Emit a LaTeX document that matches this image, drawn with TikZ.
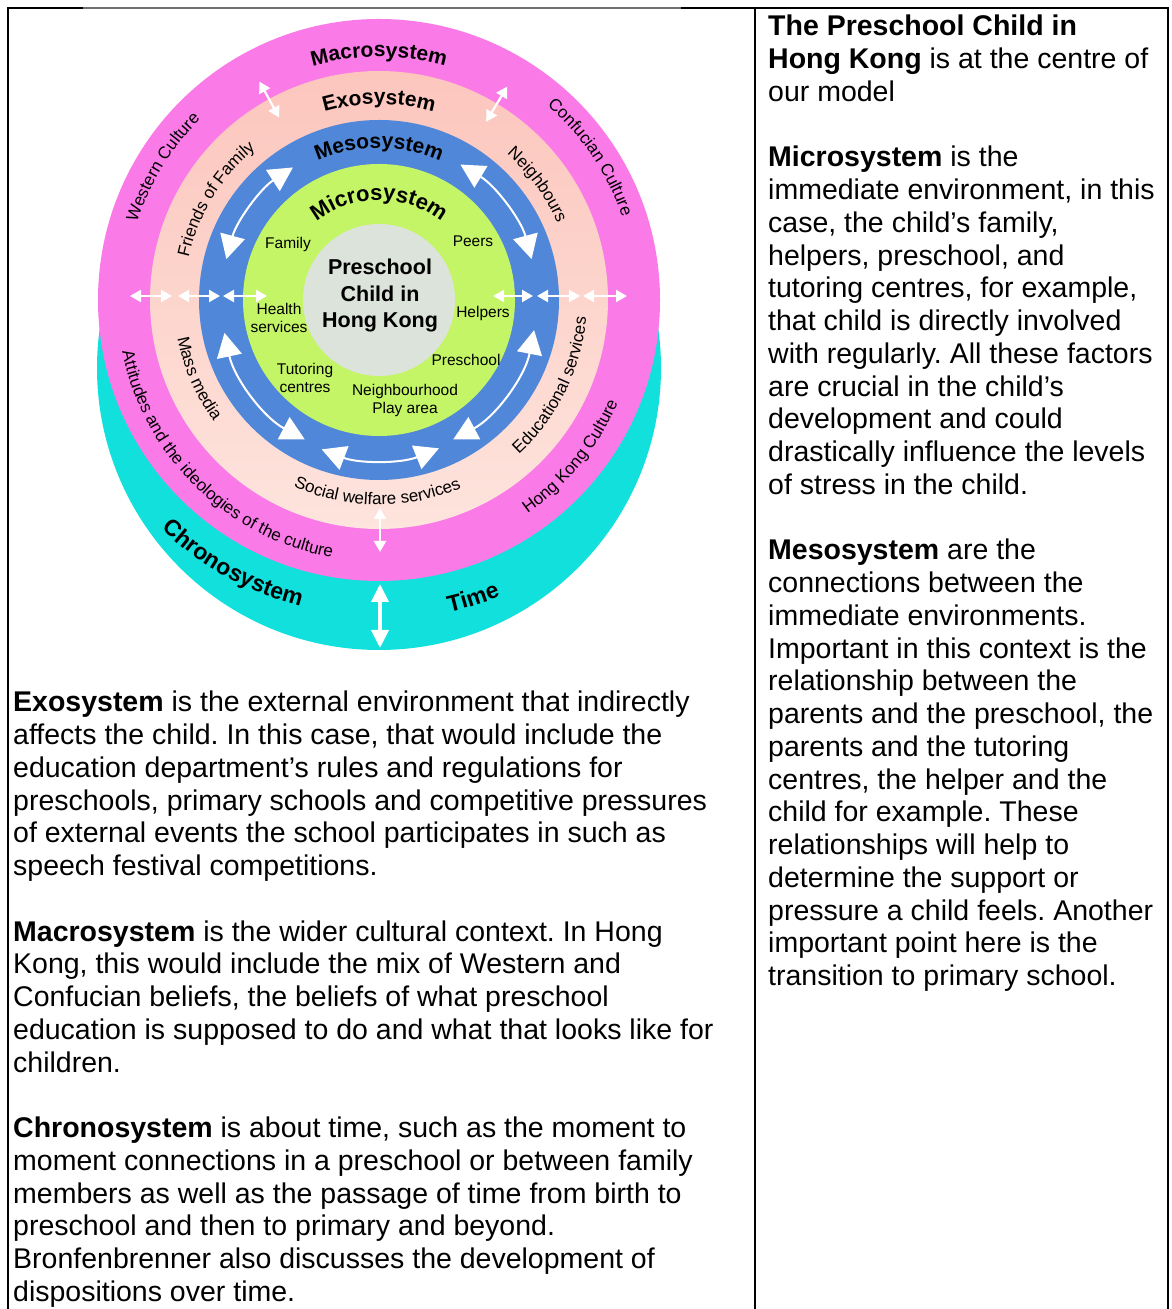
\documentclass[tikz,border=0pt]{standalone}
\usepackage{fontspec}
\setmainfont{Liberation Sans}
\usetikzlibrary{decorations.text,arrows.meta,calc}
\frenchspacing
\definecolor{macrocol}{HTML}{FA7AE8}
\definecolor{exotop}{HTML}{FCC6BD}
\definecolor{exobot}{HTML}{FDE4DD}
\definecolor{mesocol}{HTML}{5087D8}
\definecolor{microcol}{HTML}{C4F566}
\definecolor{corecol}{HTML}{DCE3DA}
\definecolor{chronocol}{HTML}{12E0DD}
\definecolor{grayline}{HTML}{707070}
\newcommand\ringbold{\bfseries\fontsize{21}{21}\selectfont}
\newcommand\microbold{\bfseries\fontsize{22}{22}\selectfont}
\newcommand\chronobold{\bfseries\fontsize{23}{23}\selectfont}
\newcommand\ringreg{\fontsize{17}{17}\selectfont}
\newcommand\cwtext[5]{\path[decorate,decoration={text along path,text align=center,text={|#4|#5}}] ($(C)+({#2+#3}:#1)$) arc[start angle={#2+#3}, end angle={#2-#3}, radius=#1];}
\newcommand\ccwtext[5]{\path[decorate,decoration={text along path,text align=center,text={|#4|#5}}] ($(C)+({#2-#3}:#1)$) arc[start angle={#2-#3}, end angle={#2+#3}, radius=#1];}
\tikzset{
  bigarr/.style={draw=white, line width=2pt, {Triangle[width=25pt,length=24pt]}-{Triangle[width=25pt,length=24pt]}},
  smallarr/.style={draw=white, line width=2.2pt, {Triangle[width=12pt,length=11pt]}-{Triangle[width=12pt,length=11pt]}},
  timearr/.style={draw=white, line width=4pt, {Triangle[width=17pt,length=18pt]}-{Triangle[width=17pt,length=18pt]}},
  lbl/.style={font=\fontsize{15.5}{18}\selectfont, align=center, inner sep=0},
  corelbl/.style={font=\bfseries\fontsize{21.5}{26.5}\selectfont, align=center, inner sep=0},
  tableline/.style={line width=2.5pt, black},
  bodytext/.style={anchor=base west, inner sep=0},
}
\begin{document}
\begin{tikzpicture}[x=1pt,y=1pt]
\useasboundingbox (0,0) rectangle (1172,1309);
\fill[white] (0,0) rectangle (1172,1309);
\coordinate (C) at (379,1009);
\coordinate (CC) at (379,941);
% rings
\fill[chronocol] (CC) circle (282);
\fill[macrocol] (C) circle (281);
\shade[top color=exotop, bottom color=exobot] (C) circle (229);
\fill[mesocol] (C) circle (180);
\fill[microcol] (C) circle (136);
\fill[corecol] (C) circle (76);
% curved titles
\cwtext{243}{90}{40}{\ringbold}{Macrosystem}
\cwtext{196}{90}{40}{\ringbold}{Exosystem}
\cwtext{152}{90}{45}{\ringbold}{Mesosystem}
\cwtext{100}{90}{60}{\microbold}{Microsystem}
\cwtext{254}{148.5}{30}{\ringreg}{Western Culture}
\cwtext{257}{34}{30}{\ringreg}{Confucian Culture}
\cwtext{195}{148.4}{30}{\ringreg}{Friends of Family}
\cwtext{194}{36}{25}{\ringreg}{Neighbours}
\ccwtext{205}{203.5}{25}{\ringreg}{Mass media}
\ccwtext{262}{225.5}{45}{\ringreg}{Attitudes and the ideologies of the culture}
\ccwtext{205}{269.5}{35}{\ringreg}{Social welfare services}
\ccwtext{208}{333.7}{30}{\ringreg}{Educational services}
\ccwtext{260}{320.8}{25}{\ringreg}{Hong Kong Culture}
\ccwtext{316}{241}{25}{\chronobold}{Chronosystem}
\ccwtext{320}{287.5}{12}{\chronobold}{Time}
% micro labels
\node[lbl] (family) at (288,1064) {Family};
\node[lbl] (peers) at (473,1068) {Peers};
\node[lbl] (health) at (279,991) {Health\\services};
\node[lbl] (helpers) at (483,995) {Helpers};
\node[lbl] (preschool) at (466,949) {Preschool};
\node[lbl] (tutoring) at (305,931) {Tutoring\\centres};
\node[lbl] (neigh) at (405,908) {Neighbourhood\\Play area};
\node[corelbl] (child) at (380,1013) {Preschool\\Child in\\Hong Kong};
% curved mesosystem arrows
\draw[bigarr] ($(C)+(165:158)$) arc[start angle=165, end angle=123, radius=158];
\draw[bigarr] ($(C)+(59:158)$) arc[start angle=59, end angle=15, radius=158];
\draw[bigarr] ($(C)+(-11:158)$) arc[start angle=-11, end angle=-62, radius=158];
\draw[bigarr] ($(C)+(-68:160)$) arc[start angle=-68, end angle=-111, radius=160];
\draw[bigarr] ($(C)+(-118:158)$) arc[start angle=-118, end angle=-168, radius=158];
% small straight arrows
\coordinate (l1a) at (130,1013); \coordinate (l1b) at (172,1013);
\coordinate (l2a) at (178,1013); \coordinate (l2b) at (220,1013);
\coordinate (l3a) at (223,1013); \coordinate (l3b) at (267,1013);
\coordinate (r1a) at (493,1013); \coordinate (r1b) at (533,1013);
\coordinate (r2a) at (537,1013); \coordinate (r2b) at (580,1013);
\coordinate (r3a) at (583,1013); \coordinate (r3b) at (627,1013);
\draw[smallarr] (l1a) -- (l1b);
\draw[smallarr] (l2a) -- (l2b);
\draw[smallarr] (l3a) -- (l3b);
\draw[smallarr] (r1a) -- (r1b);
\draw[smallarr] (r2a) -- (r2b);
\draw[smallarr] (r3a) -- (r3b);
\coordinate (d1a) at ($(C)+(118.7:208)$); \coordinate (d1b) at ($(C)+(118.7:249)$);
\coordinate (d2a) at ($(C)+(59:208)$); \coordinate (d2b) at ($(C)+(59:249)$);
\draw[smallarr] (d1a) -- (d1b);
\draw[smallarr] (d2a) -- (d2b);
\coordinate (b1a) at (380,801); \coordinate (b1b) at (380,757);
\draw[smallarr] (b1a) -- (b1b);
\coordinate (t1a) at (380,725); \coordinate (t1b) at (380,661);
\draw[timearr] (t1a) -- (t1b);
% table lines
\coordinate (tl) at (8,1301); \coordinate (tg1) at (83,1301); \coordinate (tg2) at (681,1301);
\coordinate (tm) at (755,1301); \coordinate (tr) at (1168,1301);
\coordinate (bl) at (8,0); \coordinate (bm) at (755,0); \coordinate (br) at (1168,0);
\draw[tableline] (bl) -- (tl) -- (tg1);
\draw[grayline, line width=1.5pt] (tg1) -- (tg2);
\draw[tableline] (tg2) -- (tr) -- (br);
\draw[tableline] (tm) -- (bm);
% body text
\node[bodytext] (lefttext) at (13,597) {\parbox[t]{740pt}{\raggedright\fontsize{28.5}{32.75}\selectfont
\textbf{Exosystem} is the external environment that indirectly\\
affects the child. In this case, that would include the\\
education department’s rules and regulations for\\
preschools, primary schools and competitive pressures\\
of external events the school participates in such as\\
speech festival competitions.\\[32.75pt]
\textbf{Macrosystem} is the wider cultural context. In Hong\\
Kong, this would include the mix of Western and\\
Confucian beliefs, the beliefs of what preschool\\
education is supposed to do and what that looks like for\\
children.\\[32.75pt]
\textbf{Chronosystem} is about time, such as the moment to\\
moment connections in a preschool or between family\\
members as well as the passage of time from birth to\\
preschool and then to primary and beyond.\\
Bronfenbrenner also discusses the development of\\
dispositions over time.}};
\node[bodytext] (righttext) at (768,1273) {\parbox[t]{400pt}{\raggedright\fontsize{28.5}{32.75}\selectfont
\textbf{The Preschool Child in}\\
\textbf{Hong Kong} is at the centre of\\
our model\\[32.75pt]
\textbf{Microsystem} is the\\
immediate environment, in this\\
case, the child’s family,\\
helpers, preschool, and\\
tutoring centres, for example,\\
that child is directly involved\\
with regularly. All these factors\\
are crucial in the child’s\\
development and could\\
drastically influence the levels\\
of stress in the child.\\[32.75pt]
\textbf{Mesosystem} are the\\
connections between the\\
immediate environments.\\
Important in this context is the\\
relationship between the\\
parents and the preschool, the\\
parents and the tutoring\\
centres, the helper and the\\
child for example. These\\
relationships will help to\\
determine the support or\\
pressure a child feels. Another\\
important point here is the\\
transition to primary school.}};
\end{tikzpicture}
\end{document}
